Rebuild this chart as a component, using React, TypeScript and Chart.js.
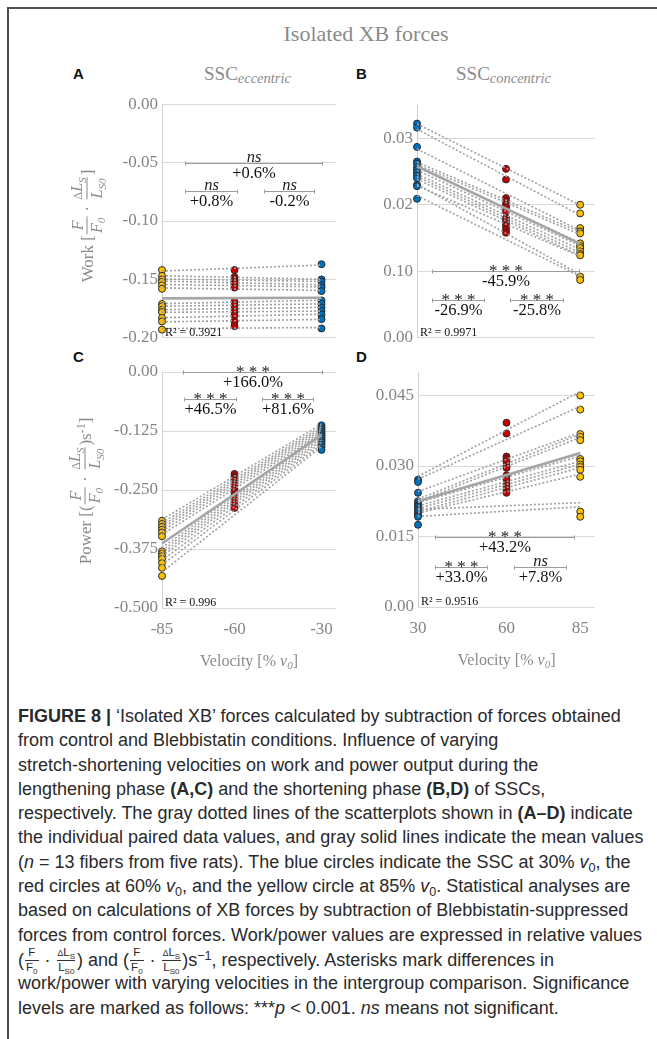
import React, { useEffect, useRef } from "react";
import { Chart, registerables } from "chart.js";

Chart.register(...registerables);

const SERIF = "'Liberation Serif', 'Times New Roman', Times, serif";
const SANS = "'Liberation Sans', Arial, Helvetica, sans-serif";
const AXIS_GRAY = "#858585";
const TITLE_GRAY = "#8a8a8a";
const GRID_GRAY = "#d9d9d9";
const BLUE = "#0070c0";
const RED = "#c00000";
const YELLOW = "#ffc000";

// Stretch-shortening velocities, % v0
const ECC_VELOCITY = [-85, -60, -30];
const CON_VELOCITY = [30, 60, 85];

// A – work, eccentric phase (13 fibers, same order in every array)
const WORK_ECC_85 = [-0.142, -0.147, -0.15, -0.152, -0.155, -0.158, -0.171, -0.173, -0.176, -0.178, -0.183, -0.186, -0.193];
const WORK_ECC_60 = [-0.142, -0.148, -0.15, -0.152, -0.154, -0.157, -0.169, -0.172, -0.175, -0.178, -0.181, -0.186, -0.19];
const WORK_ECC_30 = [-0.137, -0.15, -0.152, -0.155, -0.157, -0.16, -0.168, -0.171, -0.174, -0.177, -0.18, -0.184, -0.192];

// B – work, concentric phase
const WORK_CON_30 = [0.0322, 0.0316, 0.0287, 0.0265, 0.0262, 0.0256, 0.0252, 0.0248, 0.0244, 0.024, 0.023, 0.0228, 0.0209];
const WORK_CON_60 = [0.0254, 0.0238, 0.021, 0.0205, 0.02, 0.0196, 0.019, 0.018, 0.0176, 0.0172, 0.0168, 0.0163, 0.0158];
const WORK_CON_85 = [0.02, 0.0187, 0.0165, 0.016, 0.0157, 0.0142, 0.0138, 0.0135, 0.013, 0.0126, 0.0124, 0.0092, 0.0087];

// C – power, eccentric phase
const POWER_ECC_85 = [-0.315, -0.322, -0.328, -0.334, -0.34, -0.348, -0.38, -0.385, -0.39, -0.396, -0.405, -0.415, -0.432];
const POWER_ECC_60 = [-0.216, -0.222, -0.226, -0.23, -0.236, -0.241, -0.248, -0.255, -0.262, -0.268, -0.274, -0.281, -0.288];
const POWER_ECC_30 = [-0.113, -0.118, -0.122, -0.126, -0.13, -0.134, -0.137, -0.141, -0.145, -0.149, -0.154, -0.159, -0.165];

// D – power, concentric phase
const POWER_CON_30 = [0.0271, 0.0266, 0.0243, 0.0225, 0.022, 0.0216, 0.0213, 0.0209, 0.0205, 0.02, 0.0195, 0.0192, 0.0175];
const POWER_CON_60 = [0.0392, 0.0369, 0.032, 0.0315, 0.0309, 0.03, 0.0296, 0.028, 0.0271, 0.0262, 0.0256, 0.025, 0.0243];
const POWER_CON_85 = [0.045, 0.042, 0.0368, 0.0362, 0.0355, 0.0315, 0.031, 0.0303, 0.0298, 0.0292, 0.0277, 0.0203, 0.0192];

// Axis ticks and their printed labels
const WORK_ECC_TICKS = [-0.2, -0.15, -0.1, -0.05, 0];
const WORK_ECC_LABELS = ["-0.20", "-0.15", "-0.10", "-0.05", "0.00"];
const WORK_CON_TICKS = [0, 0.01, 0.02, 0.03];
const WORK_CON_LABELS = ["0.00", "0.10", "0.02", "0.03"];
const POWER_ECC_TICKS = [-0.5, -0.375, -0.25, -0.125, 0];
const POWER_ECC_LABELS = ["-0.500", "-0.375", "-0.250", "-0.125", "0.00"];
const POWER_CON_TICKS = [0, 0.015, 0.03, 0.045];
const POWER_CON_LABELS = ["0.00", "0.015", "0.030", "0.045"];

// Goodness of fit of the mean trend
const R2_TEXT = ["R² = 0.3921", "R² = 0.9971", "R² = 0.996", "R² = 0.9516"];

// Pairwise comparisons: bracket span (velocity), level (y value), significance, change
type Bracket = { from: number; to: number; at: number; sig: string; change: string };
const WORK_ECC_STATS: Bracket[] = [
  { from: -77, to: -29.7, at: -0.05, sig: "ns", change: "+0.6%" },
  { from: -77, to: -59, at: -0.0745, sig: "ns", change: "+0.8%" },
  { from: -50, to: -32.5, at: -0.0745, sig: "ns", change: "-0.2%" },
];
const WORK_CON_STATS: Bracket[] = [
  { from: 35, to: 84.5, at: 0.01, sig: "***", change: "-45.9%" },
  { from: 35, to: 52.5, at: 0.0057, sig: "***", change: "-26.9%" },
  { from: 61.5, to: 79.2, at: 0.0057, sig: "***", change: "-25.8%" },
];
const POWER_ECC_STATS: Bracket[] = [
  { from: -77.8, to: -29.8, at: 0, sig: "***", change: "+166.0%" },
  { from: -77.4, to: -59.5, at: -0.057, sig: "***", change: "+46.5%" },
  { from: -50.5, to: -33, at: -0.057, sig: "***", change: "+81.6%" },
];
const POWER_CON_STATS: Bracket[] = [
  { from: 35.8, to: 83, at: 0.015, sig: "***", change: "+43.2%" },
  { from: 35.8, to: 53.5, at: 0.0085, sig: "***", change: "+33.0%" },
  { from: 62.4, to: 80.2, at: 0.0085, sig: "ns", change: "+7.8%" },
];

type PanelSpec = {
  id: string;
  box: { x: number; y: number; w: number; h: number };
  padTop: number;
  padRight: number;
  yWidth: number;
  xHeight: number;
  velocities: number[];
  groups: number[][];
  xMin: number;
  xMax: number;
  yMin: number;
  yMax: number;
  yTicks: number[];
  yLabels: string[];
  showX: boolean;
  r2: string;
  stats: Bracket[];
};

const PANELS: PanelSpec[] = [
  {
    id: "A", box: { x: 60, y: 90, w: 285, h: 262 }, padTop: 13, padRight: 9, yWidth: 102, xHeight: 10,
    velocities: ECC_VELOCITY, groups: [WORK_ECC_85, WORK_ECC_60, WORK_ECC_30],
    xMin: -85, xMax: -25, yMin: -0.2, yMax: 0, yTicks: WORK_ECC_TICKS, yLabels: WORK_ECC_LABELS,
    showX: false, r2: R2_TEXT[0], stats: WORK_ECC_STATS,
  },
  {
    id: "B", box: { x: 340, y: 90, w: 265, h: 262 }, padTop: 15, padRight: 10, yWidth: 77, xHeight: 10,
    velocities: CON_VELOCITY, groups: [WORK_CON_30, WORK_CON_60, WORK_CON_85],
    xMin: 30, xMax: 90, yMin: 0, yMax: 0.035, yTicks: WORK_CON_TICKS, yLabels: WORK_CON_LABELS,
    showX: false, r2: R2_TEXT[1], stats: WORK_CON_STATS,
  },
  {
    id: "C", box: { x: 60, y: 350, w: 285, h: 330 }, padTop: 22, padRight: 9, yWidth: 102, xHeight: 72,
    velocities: ECC_VELOCITY, groups: [POWER_ECC_85, POWER_ECC_60, POWER_ECC_30],
    xMin: -85, xMax: -25, yMin: -0.5, yMax: 0, yTicks: POWER_ECC_TICKS, yLabels: POWER_ECC_LABELS,
    showX: true, r2: R2_TEXT[2], stats: POWER_ECC_STATS,
  },
  {
    id: "D", box: { x: 340, y: 350, w: 265, h: 330 }, padTop: 22, padRight: 10, yWidth: 78, xHeight: 73,
    velocities: CON_VELOCITY, groups: [POWER_CON_30, POWER_CON_60, POWER_CON_85],
    xMin: 30, xMax: 90, yMin: 0, yMax: 0.05, yTicks: POWER_CON_TICKS, yLabels: POWER_CON_LABELS,
    showX: true, r2: R2_TEXT[3], stats: POWER_CON_STATS,
  },
];

// Least-squares straight line through (xs, ys)
function fitLine(xs: number[], ys: number[]) {
  const n = xs.length;
  const mx = xs.reduce((a, b) => a + b, 0) / n;
  const my = ys.reduce((a, b) => a + b, 0) / n;
  let sxy = 0;
  let sxx = 0;
  for (let i = 0; i < n; i++) {
    sxy += (xs[i] - mx) * (ys[i] - my);
    sxx += (xs[i] - mx) * (xs[i] - mx);
  }
  const slope = sxy / sxx;
  const icpt = my - slope * mx;
  return (x: number) => icpt + slope * x;
}

function colorFor(v: number) {
  const a = Math.abs(v);
  if (a === 30) return BLUE;
  if (a === 60) return RED;
  return YELLOW;
}

type Part = { t: string; font: string; dy?: number };
function drawRich(ctx: CanvasRenderingContext2D, parts: Part[], cx: number, base: number) {
  let w = 0;
  parts.forEach((p) => {
    ctx.font = p.font;
    w += ctx.measureText(p.t).width;
  });
  let x = cx - w / 2;
  ctx.textAlign = "left";
  ctx.textBaseline = "alphabetic";
  parts.forEach((p) => {
    ctx.font = p.font;
    ctx.fillText(p.t, x, base + (p.dy || 0));
    x += ctx.measureText(p.t).width;
  });
}

function makePanelPlugin(s: PanelSpec) {
  return {
    id: "panelText" + s.id,
    afterDatasetsDraw(chart: any) {
      const { ctx, chartArea, scales } = chart;
      const xs = scales.x;
      const ys = scales.y;
      ctx.save();
      // significance brackets
      s.stats.forEach((b) => {
        const x1 = Math.round(xs.getPixelForValue(b.from)) + 0.5;
        const x2 = Math.round(xs.getPixelForValue(b.to)) + 0.5;
        const y = Math.round(ys.getPixelForValue(b.at)) + 0.5;
        ctx.strokeStyle = "#9c9c9c";
        ctx.lineWidth = 1;
        ctx.beginPath();
        ctx.moveTo(x1, y);
        ctx.lineTo(x2, y);
        ctx.moveTo(x1, y - 2);
        ctx.lineTo(x1, y + 2);
        ctx.moveTo(x2, y - 2);
        ctx.lineTo(x2, y + 2);
        ctx.stroke();
        const cx = (x1 + x2) / 2;
        ctx.textAlign = "center";
        ctx.textBaseline = "alphabetic";
        ctx.fillStyle = "#1e1e1e";
        if (b.sig === "ns") {
          ctx.font = `italic 16.5px ${SERIF}`;
          ctx.fillText("ns", cx, y - 1.5);
        } else {
          ctx.font = `17px ${SERIF}`;
          ctx.fillText("* * *", cx, y + 4.5);
        }
        ctx.fillStyle = "#111";
        ctx.font = `16.5px ${SERIF}`;
        ctx.fillText(b.change, cx, y + 14);
      });
      // R² of the mean trend
      ctx.fillStyle = "#111";
      ctx.font = `12px ${SERIF}`;
      ctx.textAlign = "left";
      ctx.fillText(s.r2, chartArea.left + 3, chartArea.bottom - 2);
      // x axis title
      if (s.showX) {
        ctx.fillStyle = TITLE_GRAY;
        drawRich(
          ctx,
          [
            { t: "Velocity [% ", font: `16px ${SERIF}` },
            { t: "v", font: `italic 16px ${SERIF}` },
            { t: "0", font: `italic 11px ${SERIF}`, dy: 3 },
            { t: "]", font: `16px ${SERIF}` },
          ],
          (chartArea.left + chartArea.right) / 2,
          chartArea.bottom + 58
        );
      }
      ctx.restore();
    },
  };
}

function buildConfig(s: PanelSpec): any {
  const datasets: any[] = [];
  // individual measurements
  s.velocities.forEach((v, gi) => {
    datasets.push({
      data: s.groups[gi].map((y) => ({ x: v, y })),
      backgroundColor: colorFor(v),
      borderColor: "#2a2a2a",
      borderWidth: 1,
      pointRadius: 3.5,
      showLine: false,
      order: 3,
      clip: false,
    });
  });
  const x0 = s.velocities[0];
  const x1 = s.velocities[s.velocities.length - 1];
  // per-fiber trend (dotted)
  for (let f = 0; f < s.groups[0].length; f++) {
    const fit = fitLine(s.velocities, s.groups.map((g) => g[f]));
    datasets.push({
      data: [
        { x: x0, y: fit(x0) },
        { x: x1, y: fit(x1) },
      ],
      showLine: true,
      borderColor: "#a0a0a0",
      borderWidth: 1.6,
      borderDash: [2, 2],
      pointRadius: 0,
      order: 2,
      clip: false,
    });
  }
  // mean trend (solid)
  const allX = s.groups.flatMap((g, gi) => g.map(() => s.velocities[gi]));
  const allY = s.groups.flat();
  const meanFit = fitLine(allX, allY);
  datasets.push({
    data: [
      { x: x0, y: meanFit(x0) },
      { x: x1, y: meanFit(x1) },
    ],
    showLine: true,
    borderColor: "#a6a6a6",
    borderWidth: 2.6,
    pointRadius: 0,
    order: 1,
    clip: false,
  });

  return {
    type: "scatter",
    data: { datasets },
    plugins: [makePanelPlugin(s)],
    options: {
      animation: false,
      responsive: false,
      maintainAspectRatio: false,
      events: [],
      layout: { padding: { left: 0, top: s.padTop, right: s.padRight, bottom: 0 } },
      plugins: { legend: { display: false }, tooltip: { enabled: false } },
      scales: {
        x: {
          type: "linear",
          min: s.xMin,
          max: s.xMax,
          afterBuildTicks: (sc: any) => {
            sc.ticks = s.velocities.map((v) => ({ value: v }));
          },
          afterFit: (sc: any) => {
            sc.height = s.xHeight;
          },
          grid: { display: false, drawTicks: false },
          border: { display: false },
          ticks: {
            display: s.showX,
            autoSkip: false,
            maxRotation: 0,
            color: AXIS_GRAY,
            font: { family: SERIF, size: 17 },
            padding: 11,
            callback: (v: any) => String(v),
          },
        },
        y: {
          type: "linear",
          min: s.yMin,
          max: s.yMax,
          afterBuildTicks: (sc: any) => {
            sc.ticks = s.yTicks.map((v) => ({ value: v }));
          },
          afterFit: (sc: any) => {
            sc.width = s.yWidth;
          },
          grid: { color: GRID_GRAY, lineWidth: 1, drawTicks: false },
          border: { color: "#cfcfcf", width: 1 },
          ticks: {
            color: AXIS_GRAY,
            font: { family: SERIF, size: 17 },
            padding: 4,
            callback: (v: any) => {
              const i = s.yTicks.findIndex((t) => Math.abs(t - Number(v)) < 1e-9);
              return i >= 0 ? s.yLabels[i] : "";
            },
          },
        },
      },
    },
  };
}

function PanelChart({ spec }: { spec: PanelSpec }) {
  const ref = useRef<HTMLCanvasElement>(null);
  useEffect(() => {
    const chart = new Chart(ref.current as HTMLCanvasElement, buildConfig(spec));
    return () => chart.destroy();
  }, [spec]);
  return (
    <canvas
      ref={ref}
      width={spec.box.w}
      height={spec.box.h}
      style={{ position: "absolute", left: spec.box.x, top: spec.box.y, width: spec.box.w, height: spec.box.h }}
    />
  );
}

function Txt(props: {
  x: number;
  base: number;
  size: number;
  family?: string;
  color?: string;
  weight?: any;
  align?: "left" | "center";
  children: any;
}) {
  const { x, base, size, family = SERIF, color = TITLE_GRAY, weight = "normal", align = "left", children } = props;
  return (
    <div
      style={{
        position: "absolute",
        left: x,
        top: base - 0.835 * size,
        fontSize: size,
        lineHeight: `${size}px`,
        fontFamily: family,
        color,
        fontWeight: weight,
        whiteSpace: "nowrap",
        transform: align === "center" ? "translateX(-50%)" : undefined,
      }}
    >
      {children}
    </div>
  );
}

const Sub = ({ children, italic = false }: { children: any; italic?: boolean }) => (
  <span style={{ fontSize: "0.7em", position: "relative", top: "0.32em", fontStyle: italic ? "italic" : "normal" }}>{children}</span>
);
const Sup = ({ children }: { children: any }) => (
  <span style={{ fontSize: "0.7em", position: "relative", top: "-0.45em" }}>{children}</span>
);

function Frac({ num, den, size, rule }: { num: any; den: any; size: number; rule: string }) {
  return (
    <span
      style={{
        display: "inline-flex",
        flexDirection: "column",
        alignItems: "center",
        verticalAlign: "middle",
        fontSize: size,
        lineHeight: `${size}px`,
        margin: "0 1px",
      }}
    >
      <span style={{ padding: "0 1px 1px" }}>{num}</span>
      <span style={{ borderTop: `1px solid ${rule}`, padding: "1px 1px 0" }}>{den}</span>
    </span>
  );
}

const FF0 = (size: number, rule: string, italic: boolean) => (
  <Frac
    size={size}
    rule={rule}
    num={<span style={{ fontStyle: italic ? "italic" : "normal" }}>F</span>}
    den={
      <span style={{ fontStyle: italic ? "italic" : "normal" }}>
        F<Sub italic={italic}>0</Sub>
      </span>
    }
  />
);
const DL = (size: number, rule: string, italic: boolean) => (
  <Frac
    size={size}
    rule={rule}
    num={
      <span>
        <span style={{ fontSize: "0.75em" }}>Δ</span>
        <span style={{ fontStyle: italic ? "italic" : "normal" }}>L</span>
        <Sub italic={italic}>S</Sub>
      </span>
    }
    den={
      <span style={{ fontStyle: italic ? "italic" : "normal" }}>
        L<Sub italic={italic}>S0</Sub>
      </span>
    }
  />
);

function YTitle({ cx, cy, children }: { cx: number; cy: number; children: any }) {
  return (
    <div
      style={{
        position: "absolute",
        left: cx,
        top: cy,
        transform: "translate(-50%, -50%) rotate(-90deg)",
        whiteSpace: "nowrap",
        fontFamily: SERIF,
        fontSize: 17,
        color: TITLE_GRAY,
        display: "flex",
        alignItems: "center",
      }}
    >
      {children}
    </div>
  );
}

const V0 = () => (
  <span>
    <i>v</i>
    <Sub>0</Sub>
  </span>
);

const CAPTION_LINES: any[] = [
  <>
    <b>FIGURE 8 |</b> ‘Isolated XB’ forces calculated by subtraction of forces obtained
  </>,
  <>from control and Blebbistatin conditions. Influence of varying</>,
  <>stretch-shortening velocities on work and power output during the</>,
  <>
    lengthening phase <b>(A,C)</b> and the shortening phase <b>(B,D)</b> of SSCs,
  </>,
  <>
    respectively. The gray dotted lines of the scatterplots shown in <b>(A–D)</b> indicate
  </>,
  <>the individual paired data values, and gray solid lines indicate the mean values</>,
  <>
    (<i>n</i> = 13 fibers from five rats). The blue circles indicate the SSC at 30% <V0 />, the
  </>,
  <>
    red circles at 60% <V0 />, and the yellow circle at 85% <V0 />. Statistical analyses are
  </>,
  <>based on calculations of XB forces by subtraction of Blebbistatin-suppressed</>,
  <>forces from control forces. Work/power values are expressed in relative values</>,
  <>
    ({FF0(11.5, "#333", false)} · {DL(11.5, "#333", false)}) and ({FF0(11.5, "#333", false)} ·{" "}
    {DL(11.5, "#333", false)})s<Sup>−1</Sup>, respectively. Asterisks mark differences in
  </>,
  <>work/power with varying velocities in the intergroup comparison. Significance</>,
  <>
    levels are marked as follows: ***<i>p</i> &lt; 0.001. <i>ns</i> means not significant.
  </>,
];

export default function App() {
  return (
    <div
      style={{
        position: "absolute",
        left: 0,
        top: 0,
        width: 657,
        height: 1039,
        overflow: "hidden",
        background: "#fff",
      }}
    >
      <div
        style={{
          position: "absolute",
          left: 7,
          top: 7,
          width: 720,
          height: 1100,
          borderTop: "2px solid #4f4f4f",
          borderLeft: "2px solid #4f4f4f",
        }}
      />

      <Txt x={366} base={41} size={22} align="center">
        Isolated XB forces
      </Txt>

      <Txt x={73} base={78.5} size={15} family={SANS} color="#111" weight="bold">
        A
      </Txt>
      <Txt x={356} base={78.5} size={15} family={SANS} color="#111" weight="bold">
        B
      </Txt>
      <Txt x={73} base={362} size={15} family={SANS} color="#111" weight="bold">
        C
      </Txt>
      <Txt x={356} base={362} size={15} family={SANS} color="#111" weight="bold">
        D
      </Txt>

      <Txt x={204} base={80} size={19}>
        SSC
        <span style={{ fontSize: 14.5, fontStyle: "italic", position: "relative", top: 3 }}>eccentric</span>
      </Txt>
      <Txt x={456} base={80} size={19}>
        SSC
        <span style={{ fontSize: 14.5, fontStyle: "italic", position: "relative", top: 3 }}>concentric</span>
      </Txt>

      {PANELS.map((p) => (
        <PanelChart key={p.id} spec={p} />
      ))}

      <YTitle cx={87} cy={226}>
        <span>Work [</span>
        {FF0(16, TITLE_GRAY, true)}
        <span>&nbsp;·&nbsp;</span>
        {DL(16, TITLE_GRAY, true)}
        <span>]</span>
      </YTitle>
      <YTitle cx={85} cy={491}>
        <span>Power [(</span>
        {FF0(16, TITLE_GRAY, true)}
        <span>&nbsp;·&nbsp;</span>
        {DL(16, TITLE_GRAY, true)}
        <span>
          )s<Sup>-1</Sup>]
        </span>
      </YTitle>

      <div
        style={{
          position: "absolute",
          left: 18,
          top: 704,
          fontFamily: SANS,
          fontSize: 18,
          lineHeight: "24.3px",
          color: "#2a2a2a",
          whiteSpace: "nowrap",
        }}
      >
        {CAPTION_LINES.map((l, i) => (
          <div key={i} style={{ height: 24.3 }}>
            {l}
          </div>
        ))}
      </div>
    </div>
  );
}
